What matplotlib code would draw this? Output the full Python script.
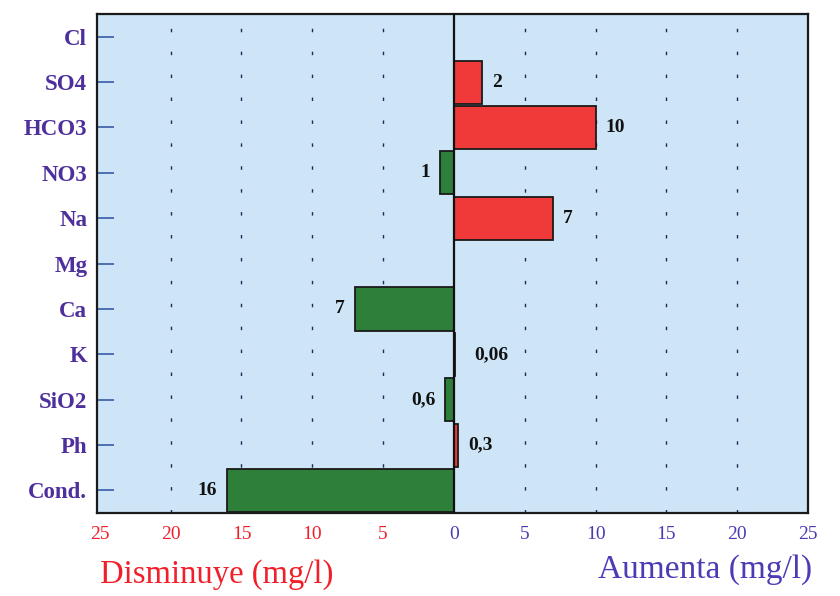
import matplotlib
matplotlib.use("Agg")
import matplotlib.pyplot as plt
import numpy as np

# Variation of each parameter (negative = decrease, positive = increase)
categories = ["Cl", "SO4", "HCO3", "NO3", "Na", "Mg", "Ca", "K", "SiO2", "Ph", "Cond."]
values = [0, 2, 10, -1, 7, 0, -7, 0.06, -0.6, 0.3, -16]
value_labels = ["", "2", "10", "1", "7", "", "7", "0,06", "0,6", "0,3", "16"]
x_ticks = [-25, -20, -15, -10, -5, 0, 5, 10, 15, 20, 25]
x_tick_labels = ["25", "20", "15", "10", "5", "0", "5", "10", "15", "20", "25"]

RED = "#f03a3a"
GREEN = "#2d7f3a"
LABEL_RED = "#f0202a"
LABEL_BLUE = "#4a3cb4"
CAT_PURPLE = "#4e2f9c"
BG = "#cde5f6"
SERIF = ["Liberation Serif", "DejaVu Serif"]

fig = plt.figure(figsize=(8.4, 5.96), dpi=100)
ax = fig.add_axes([0.1155, 0.139, 0.8465, 0.8375])
ax.set_facecolor(BG)

y = np.arange(len(categories))
colors = [RED if v > 0 else GREEN for v in values]
ax.barh(y, values, height=0.95, color=colors, edgecolor="#1a1a1a", linewidth=1.3, zorder=3)

ax.set_xlim(-25.2, 24.8)
ax.set_ylim(len(categories) - 0.5, -0.5)

# dash-dot style vertical guides
for xv in x_ticks[1:-1]:
    if xv == 0:
        continue
    ax.axvline(xv, color="#202a5a", linewidth=1.0, linestyle=(0, (2.5, 14)), zorder=1)

# centre reference line
ax.axvline(0, color="#111111", linewidth=1.6, zorder=4)

# value annotations
for yi, v, lab in zip(y, values, value_labels):
    if not lab:
        continue
    off = 1.4 if abs(v) < 0.1 else 0.7
    if v >= 0:
        ax.text(v + off, yi, lab, ha="left", va="center", fontsize=14,
                fontweight="bold", family=SERIF, color="#111111", zorder=5)
    else:
        ax.text(v - off, yi, lab, ha="right", va="center", fontsize=14,
                fontweight="bold", family=SERIF, color="#111111", zorder=5)

ax.set_yticks(y)
ax.set_yticklabels(categories, family=SERIF, fontsize=16.5, fontweight="bold", color=CAT_PURPLE)
ax.tick_params(axis="y", direction="in", length=12, width=1.2, color="#3a5aa8", pad=7)

ax.set_xticks(x_ticks)
ax.set_xticklabels(x_tick_labels, family=SERIF, fontsize=14)
for lbl, xv in zip(ax.get_xticklabels(), x_ticks):
    lbl.set_color(LABEL_RED if xv < 0 else LABEL_BLUE)
ax.tick_params(axis="x", length=0, pad=9)

for s in ax.spines.values():
    s.set_color("#1a1a1a")
    s.set_linewidth(1.6)

fig.text(0.119, 0.022, "Disminuye (mg/l)", family=SERIF, fontsize=23.5, color=LABEL_RED, ha="left", va="baseline")
fig.text(0.967, 0.03, "Aumenta (mg/l)", family=SERIF, fontsize=24, color=LABEL_BLUE, ha="right", va="baseline")

fig.savefig("out.png", dpi=100, facecolor="white")
